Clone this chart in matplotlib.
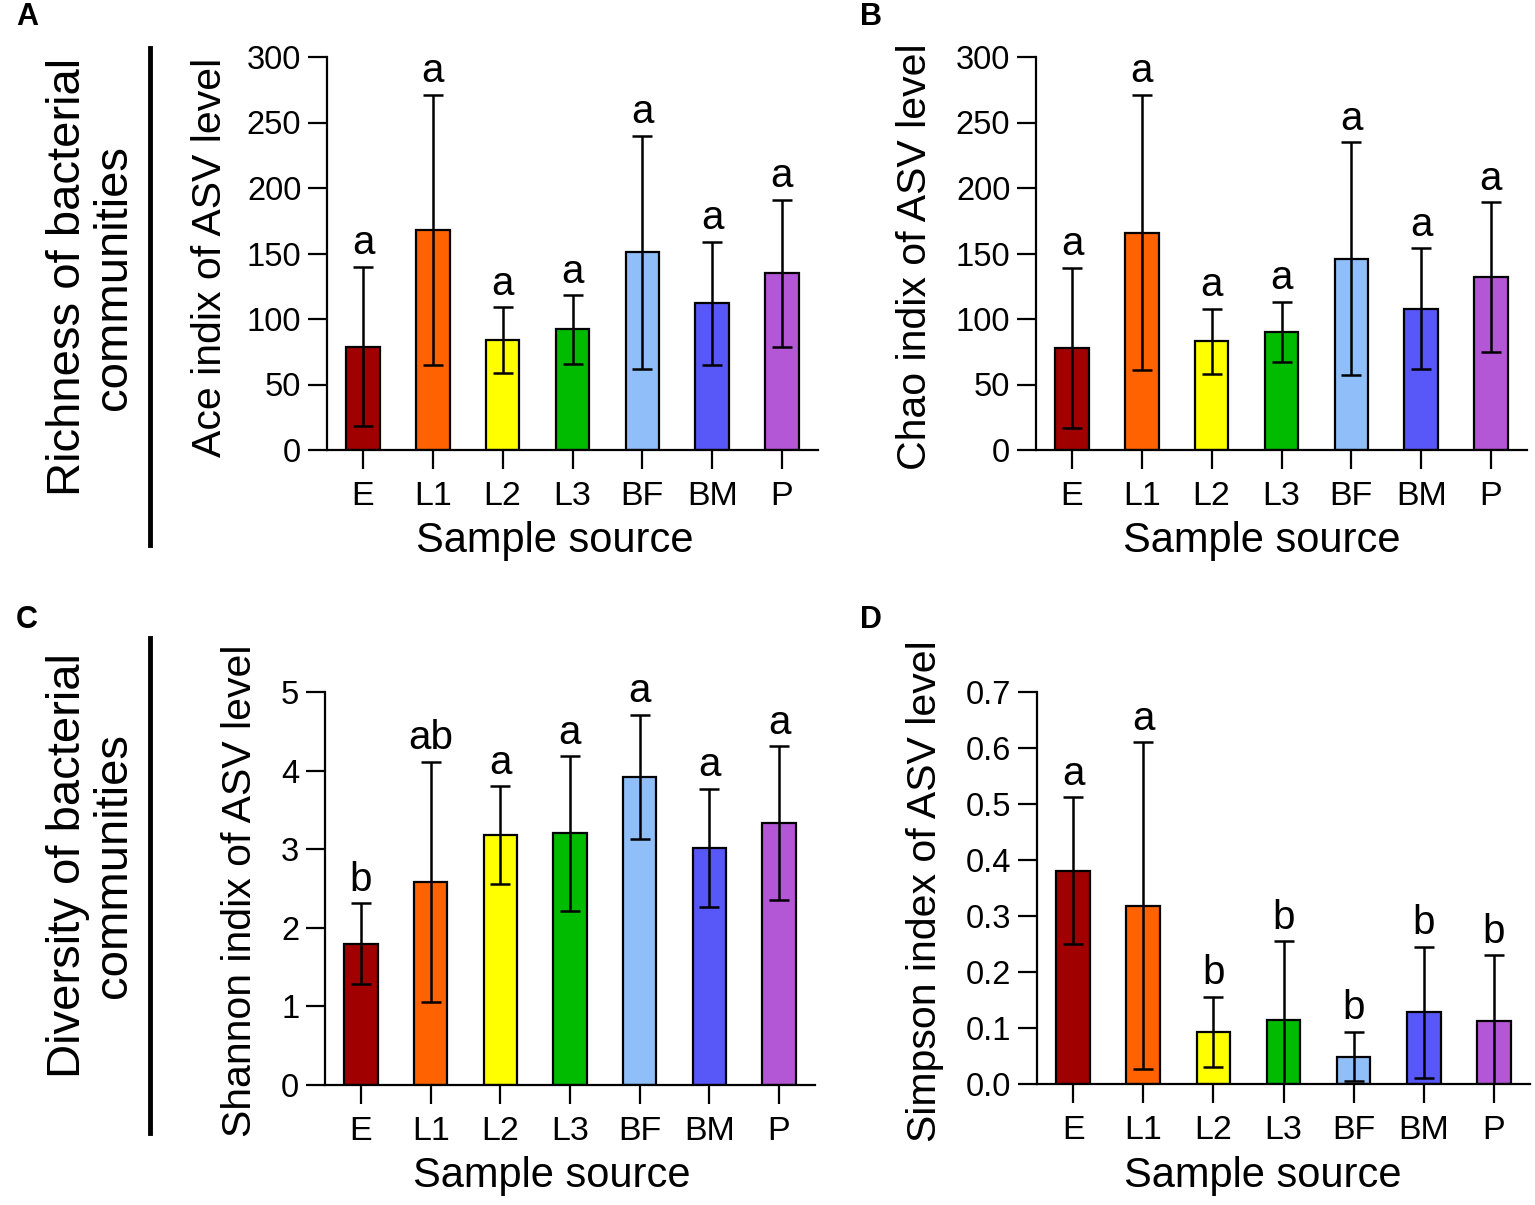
import matplotlib
matplotlib.use("Agg")
import matplotlib.pyplot as plt
import numpy as np

plt.rcParams['font.family'] = ['Liberation Sans', 'DejaVu Sans']

categories = ["E", "L1", "L2", "L3", "BF", "BM", "P"]
colors = ["#A00000", "#FF6200", "#FFFF00", "#00BB00", "#90BEF8", "#5858F8", "#B457D6"]

ace_mean = [79, 168, 84, 92, 151, 112, 135]
ace_sd = [61, 103, 25, 26, 89, 47, 56]
ace_letters = ["a", "a", "a", "a", "a", "a", "a"]

chao_mean = [78, 166, 83, 90, 146, 108, 132]
chao_sd = [61, 105, 25, 23, 89, 46, 57]
chao_letters = ["a", "a", "a", "a", "a", "a", "a"]

shannon_mean = [1.80, 2.58, 3.18, 3.20, 3.92, 3.02, 3.33]
shannon_sd = [0.51, 1.53, 0.62, 0.98, 0.79, 0.75, 0.98]
shannon_letters = ["b", "ab", "a", "a", "a", "a", "a"]

simpson_mean = [0.381, 0.318, 0.093, 0.114, 0.049, 0.128, 0.113]
simpson_sd = [0.131, 0.292, 0.063, 0.141, 0.044, 0.117, 0.117]
simpson_letters = ["a", "a", "b", "b", "b", "b", "b"]

W, H = 1535, 1205
fig = plt.figure(figsize=(W / 100, H / 100), dpi=100)


def box(l, r, t, b):
    return [l / W, 1 - b / H, (r - l) / W, (b - t) / H]


def fx(x):
    return x / W


def fy(y):
    return 1 - y / H


def panel(rect, mean, sd, letters, ylabel, ymax, ystep, fmt, ylab_xy, xlab_xy):
    ax = fig.add_axes(rect)
    x = np.arange(len(categories))
    ax.bar(x, mean, width=0.48, color=colors, edgecolor="black", linewidth=1.6, zorder=1)
    ax.errorbar(x, mean, yerr=sd, fmt="none", ecolor="black", elinewidth=1.8,
                capsize=7, capthick=1.8, zorder=3)
    for xi, m, s, lt in zip(x, mean, sd, letters):
        ax.annotate(lt, (xi, m + s), xytext=(0, 9), textcoords="offset points",
                    ha="center", va="baseline", fontsize=29, clip_on=False)
    ax.set_xlim(-0.516, len(categories) - 1 + 0.516)
    ax.set_ylim(0, ymax)
    ticks = np.arange(0, ymax + ystep / 2, ystep)
    ax.set_yticks(ticks)
    ax.set_yticklabels([fmt.format(t) for t in ticks])
    ax.set_xticks(x)
    ax.set_xticklabels(categories)
    for s in ["top", "right"]:
        ax.spines[s].set_visible(False)
    for s in ["left", "bottom"]:
        ax.spines[s].set_linewidth(1.6)
    ax.tick_params(axis="y", length=13.5, width=1.6, pad=5, labelsize=23.5)
    ax.tick_params(axis="x", length=14, width=1.6, pad=8, labelsize=24.5)
    fig.text(fx(ylab_xy[0]), fy(ylab_xy[1]), ylabel, rotation=90, ha="center",
             va="center", fontsize=29.5)
    fig.text(fx(xlab_xy[0]), fy(xlab_xy[1]), "Sample source", ha="center",
             va="center", fontsize=30)
    return ax


panel(box(327, 818, 57, 450), ace_mean, ace_sd, ace_letters,
      "Ace indix of ASV level", 300, 50, "{:.0f}", (210, 257), (555, 541))
panel(box(1036, 1527, 57, 450), chao_mean, chao_sd, chao_letters,
      "Chao indix of ASV level", 300, 50, "{:.0f}", (915, 257), (1262, 541))
panel(box(325, 815, 692, 1085), shannon_mean, shannon_sd, shannon_letters,
      "Shannon indix of ASV level", 5, 1, "{:.0f}", (240, 891), (552, 1176))
panel(box(1037, 1530, 692, 1084), simpson_mean, simpson_sd, simpson_letters,
      "Simpson index of ASV level", 0.7, 0.1, "{:.1f}", (925, 891), (1263, 1176))

# group labels and separator lines
fig.text(fx(91), fy(277), "Richness of bacterial\ncommunities", rotation=90,
         ha="center", va="center", multialignment="center", fontsize=34,
         linespacing=1.08)
fig.text(fx(91), fy(866), "Diversity of bacterial\ncommunities", rotation=90,
         ha="center", va="center", multialignment="center", fontsize=34,
         linespacing=1.08)
fig.add_artist(plt.Line2D([fx(150), fx(150)], [fy(48), fy(545)], color="black", lw=3.5))
fig.add_artist(plt.Line2D([fx(150), fx(150)], [fy(638), fy(1133)], color="black", lw=3.5))

for lab, (px, py) in zip("ABCD", [(27, 17), (871, 17), (27, 620), (871, 620)]):
    fig.text(fx(px), fy(py), lab, ha="center", va="center", fontsize=22, fontweight="bold")

fig.savefig("out.png", dpi=100)
